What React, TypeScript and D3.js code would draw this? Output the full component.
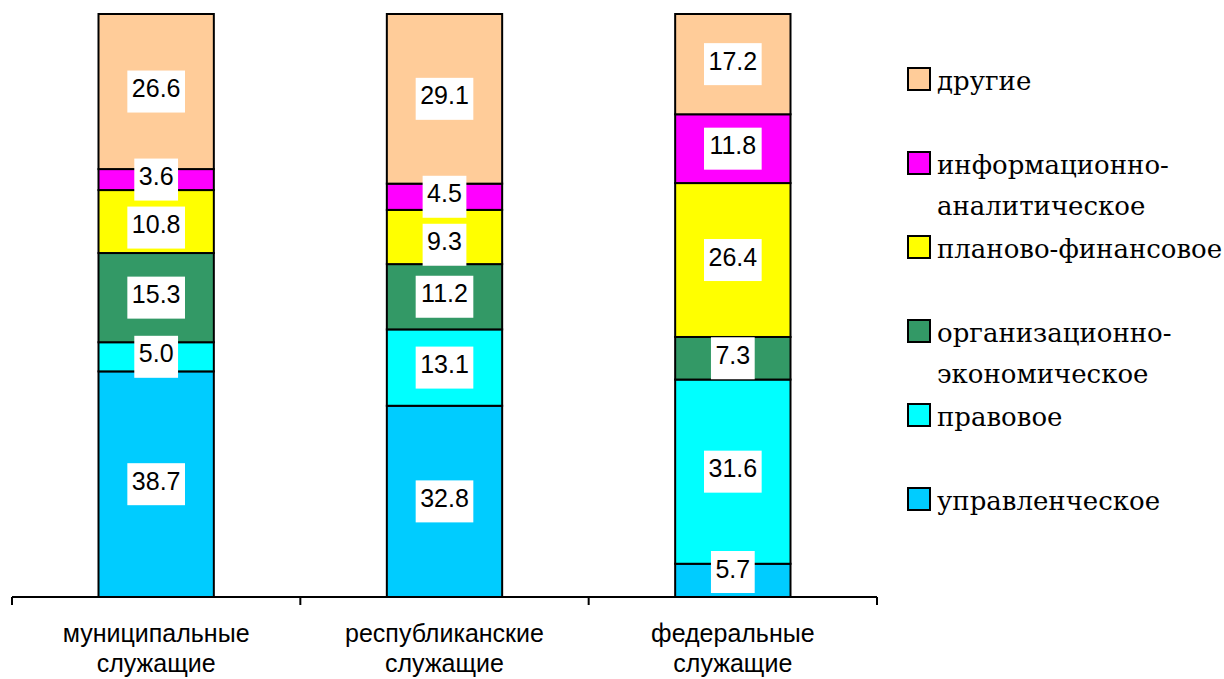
import React from 'react'
import { scaleBand, scaleLinear, stack } from 'd3'

// 100% stacked bars: speciality profile of civil servants by level.

const categories = ['муниципальные служащие', 'республиканские служащие', 'федеральные служащие']
const categoryLines = [
  ['муниципальные', 'служащие'],
  ['республиканские', 'служащие'],
  ['федеральные', 'служащие'],
]

const seriesKeys = ['upr', 'prav', 'org', 'plan', 'inf', 'dr']
const seriesLegend = [
  ['управленческое'],
  ['правовое'],
  ['организационно-', 'экономическое'],
  ['планово-финансовое'],
  ['информационно-', 'аналитическое'],
  ['другие'],
]
const seriesColors = ['#00CCFF', '#00FFFF', '#339966', '#FFFF00', '#FF00FF', '#FFCC99']

const upr = [38.7, 32.8, 5.7]
const prav = [5.0, 13.1, 31.6]
const org = [15.3, 11.2, 7.3]
const plan = [10.8, 9.3, 26.4]
const inf = [3.6, 4.5, 11.8]
const dr = [26.6, 29.1, 17.2]

const rows = categories.map((c, i) => ({
  cat: c,
  upr: upr[i],
  prav: prav[i],
  org: org[i],
  plan: plan[i],
  inf: inf[i],
  dr: dr[i],
}))

const W = 1224
const H = 679
const AXIS_Y = 597
const TOP_Y = 14
const NUM_FONT = 25
const BOX_H = 42

function textW(s: string) {
  let w = 0
  for (const ch of s) w += ch === '.' ? 0.278 : 0.556
  return w * NUM_FONT
}

export default function App() {
  const x = scaleBand<number>().domain([0, 1, 2]).range([12, 877]).paddingInner(0.6).paddingOuter(0.3)
  const y = scaleLinear().domain([0, 100]).range([AXIS_Y, TOP_Y])
  const series = stack<any>().keys(seriesKeys)(rows)
  const step = x.step()
  const ticks = [0, 1, 2, 3].map((i) => 12 + i * step)
  const legendY = scaleLinear().domain([0, 5]).range([499, 79])

  // label placement, top-down with overlap avoidance
  const labels: { cx: number; cy: number; text: string }[] = []
  categories.forEach((_, ci) => {
    const items = series
      .map((s) => {
        const d = s[ci]
        return { cy: (y(d[0]) + y(d[1])) / 2, text: (d[1] - d[0]).toFixed(1) }
      })
      .sort((a, b) => a.cy - b.cy)
    let prevBottom = -Infinity
    items.forEach((it) => {
      let cy = it.cy
      if (cy - BOX_H / 2 < prevBottom + 6) cy = prevBottom + 6 + BOX_H / 2
      if (cy + BOX_H / 2 > AXIS_Y - 4) cy = AXIS_Y - 4 - BOX_H / 2
      prevBottom = cy + BOX_H / 2
      labels.push({ cx: (x(ci) ?? 0) + x.bandwidth() / 2, cy, text: it.text })
    })
  })

  return (
    <svg width={W} height={H} style={{ position: 'absolute', left: 0, top: 0 }}>
      {series.map((s, si) => (
        <g key={seriesKeys[si]}>
          {s.map((d, ci) => (
            <rect
              key={ci}
              x={x(ci)}
              y={y(d[1])}
              width={x.bandwidth()}
              height={y(d[0]) - y(d[1])}
              fill={seriesColors[si]}
              stroke="#000"
              strokeWidth={2}
            />
          ))}
        </g>
      ))}
      {labels.map((l, i) => {
        const bw = textW(l.text) + 9
        return (
          <g key={i}>
            <rect x={l.cx - bw / 2} y={l.cy - BOX_H / 2} width={bw} height={BOX_H} fill="#fff" />
            <text x={l.cx} y={l.cy + 5.5} textAnchor="middle" style={{ fontFamily: 'Liberation Sans' }} fontSize={NUM_FONT} fill="#000">
              {l.text}
            </text>
          </g>
        )
      })}
      <line x1={12} x2={877} y1={AXIS_Y} y2={AXIS_Y} stroke="#000" strokeWidth={2} />
      {ticks.map((t) => (
        <line key={t} x1={t} x2={t} y1={AXIS_Y} y2={AXIS_Y + 8} stroke="#000" strokeWidth={2} />
      ))}
      {categoryLines.map((lines, ci) =>
        lines.map((ln, li) => (
          <text
            key={`${ci}-${li}`}
            x={(x(ci) ?? 0) + x.bandwidth() / 2}
            y={642 + li * 30}
            textAnchor="middle"
            style={{ fontFamily: 'Liberation Sans' }}
            fontSize={25}
            fill="#000"
          >
            {ln}
          </text>
        ))
      )}
      {seriesLegend.map((lines, si) => {
        const cy = legendY(si)
        return (
          <g key={si}>
            <rect x={908} y={cy - 11} width={22} height={22} fill={seriesColors[si]} stroke="#000" strokeWidth={2} />
            {lines.map((ln, li) => (
              <text key={li} x={937} y={cy + 11 + li * 41} style={{ fontFamily: 'DejaVu Serif' }} fontSize={26} fill="#000">
                {ln}
              </text>
            ))}
          </g>
        )
      })}
    </svg>
  )
}
